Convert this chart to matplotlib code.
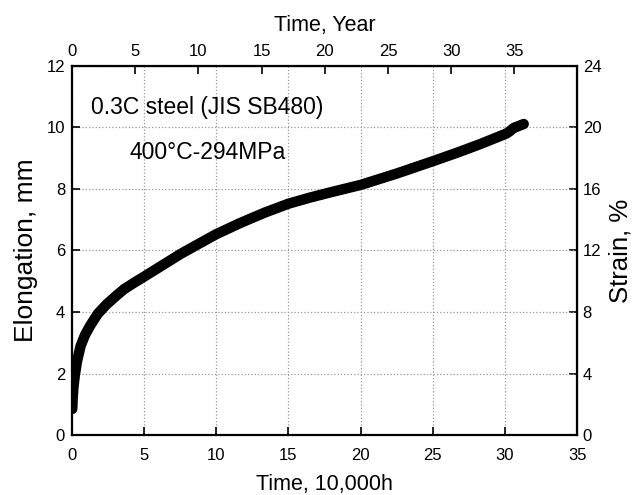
import matplotlib
matplotlib.use("Agg")
import matplotlib.pyplot as plt

plt.rcParams['font.family'] = ['Liberation Sans', 'DejaVu Sans']

# time in 10,000 h, elongation in mm
time_h = [0.02, 0.05, 0.1, 0.2, 0.35, 0.6, 0.9, 1.25, 1.8, 2.4, 3.0, 3.6, 4.3,
          5.0, 6.2, 7.5, 8.8, 10.0, 11.6, 13.3, 15.0, 16.5, 18.0, 20.0, 22.5,
          25.0, 26.7, 28.3, 30.1, 30.35, 30.6, 31.3]
elong = [0.85, 1.2, 1.55, 1.95, 2.4, 2.9, 3.25, 3.55, 3.95, 4.25, 4.5, 4.74, 4.95,
         5.15, 5.5, 5.88, 6.22, 6.53, 6.88, 7.22, 7.52, 7.72, 7.9, 8.13, 8.5,
         8.9, 9.18, 9.46, 9.8, 9.88, 9.98, 10.11]

xticks = [0, 5, 10, 15, 20, 25, 30, 35]
yticks = [0, 2, 4, 6, 8, 10, 12]
year_ticks = [0, 5, 10, 15, 20, 25, 30, 35]
strain_ticks = [0, 4, 8, 12, 16, 20, 24]
gauge = 50.0  # mm, strain = elong / gauge

fig = plt.figure(figsize=(6.37, 4.95), dpi=100)
ax = fig.add_axes([0.113, 0.121, 0.793, 0.746])

ax.plot(time_h, elong, color='black', lw=7.5, solid_capstyle='round',
        solid_joinstyle='round')

ax.set_xlim(0, 35)
ax.set_ylim(0, 12)
ax.set_xticks(xticks)
ax.set_yticks(yticks)
ax.grid(True, color='#999999', linestyle=':', lw=0.9)
for s in ax.spines.values():
    s.set_linewidth(1.6)
ax.tick_params(axis='x', direction='in', length=6, width=1.2, labelsize=12, pad=9)
ax.tick_params(axis='y', direction='in', length=6, width=1.2, labelsize=12, pad=5,
               left=True, right=False)
ax.set_xlabel('Time, 10,000h', fontsize=15.5, labelpad=8)
ax.set_ylabel('Elongation, mm', fontsize=19, labelpad=6)

top = ax.secondary_xaxis('top', functions=(lambda h: h * 10000 / 8760,
                                           lambda yr: yr * 8760 / 10000))
top.set_xticks(year_ticks)
top.tick_params(direction='in', length=6, width=1.2, labelsize=12, pad=5)
top.set_xlabel('Time, Year', fontsize=15.5, labelpad=9)

right = ax.secondary_yaxis('right', functions=(lambda e: e / gauge * 100,
                                               lambda st: st * gauge / 100))
right.set_yticks(strain_ticks)
right.tick_params(direction='in', length=6, width=1.2, labelsize=12, pad=4)
right.set_ylabel('Strain, %', fontsize=18.5, labelpad=5)

ax.text(1.3, 10.63, '0.3C steel (JIS SB480)', fontsize=16.5, va='center')
ax.text(3.97, 9.17, '400\u00b0C-294MPa', fontsize=16.5, va='center')

fig.savefig('out.png', dpi=100)
